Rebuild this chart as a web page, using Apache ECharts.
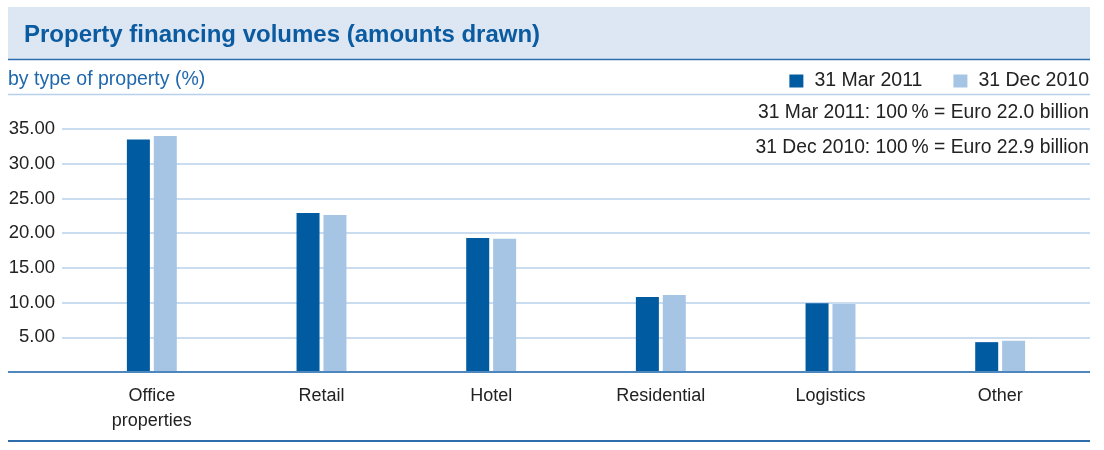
<!doctype html>
<html>
<head>
    <meta charset="utf-8">
    <title>Property financing volumes</title>
    <style>
        html, body { margin: 0; padding: 0; background: #fff; }
        #chartEle { width: 1104px; height: 450px; }
    </style>
</head>
<body>
<div id="chartEle"></div>
<script src="https://cdn.jsdelivr.net/npm/echarts@6/dist/echarts.min.js"></script>
<script>
    // data (% of total)
    var categories = ['Office\nproperties', 'Retail', 'Hotel', 'Residential', 'Logistics', 'Other'];
    var mar2011 = [33.5, 22.9, 19.3, 10.8, 9.9, 4.3];
    var dec2010 = [34.0, 22.6, 19.2, 11.1, 9.8, 4.5];
    var seriesNames = ['31 Mar 2011', '31 Dec 2010'];
    var yTicks = [0, 5, 10, 15, 20, 25, 30, 35];
    var notes = ['31 Mar 2011: 100\u2009% = Euro 22.0 billion', '31 Dec 2010: 100\u2009% = Euro 22.9 billion'];

    var font = '"Liberation Sans", Arial, sans-serif';
    var dark = '#005ba1';
    var light = '#a6c5e4';
    var gridColor = '#b8d0ea';

    var myChart = echarts.init(document.getElementById('chartEle'));
    var option = {
        backgroundColor: '#fff',
        textStyle: {fontFamily: font},
        animation: false,
        graphic: [
            // header band
            {type: 'rect', shape: {x: 8, y: 7, width: 1082, height: 52}, style: {fill: '#dde7f3'}, z: -1},
            {type: 'line', shape: {x1: 8, y1: 59.5, x2: 1090, y2: 59.5}, style: {stroke: '#2f6eac', lineWidth: 1.5}},
            {type: 'line', shape: {x1: 8, y1: 94.5, x2: 1090, y2: 94.5}, style: {stroke: gridColor, lineWidth: 1.5}},
            // baseline + bottom rule
            {type: 'line', shape: {x1: 8, y1: 372, x2: 1090, y2: 372}, style: {stroke: '#4d87be', lineWidth: 2}, z: 10},
            {type: 'line', shape: {x1: 8, y1: 441, x2: 1090, y2: 441}, style: {stroke: '#2f6eac', lineWidth: 2}}
        ],
        title: [{
            text: 'Property financing volumes (amounts drawn)',
            left: 19, top: 18,
            textStyle: {color: '#0b5ba1', fontSize: 24, fontWeight: 'bold', fontFamily: font}
        }, {
            text: 'by type of property (%)',
            left: 3, top: 65,
            textStyle: {color: '#1f68ad', fontSize: 19.5, fontWeight: 'normal', fontFamily: font}
        }, {
            text: notes[0],
            right: 10, top: 98,
            textStyle: {color: '#222', fontSize: 19.3, fontWeight: 'normal', fontFamily: font}
        }, {
            text: notes[1],
            right: 10, top: 133,
            textStyle: {color: '#222', fontSize: 19.3, fontWeight: 'normal', fontFamily: font}
        }],
        legend: {
            data: seriesNames,
            right: 10, top: 66,
            icon: 'rect',
            itemWidth: 14, itemHeight: 13,
            itemGap: 31,
            selectedMode: false,
            textStyle: {color: '#222', fontSize: 19.5, fontFamily: font, padding: [0, 0, 0, 6]}
        },
        grid: [
            {left: 67, right: 19, top: 129, bottom: 78},   // bars
            {left: 62, right: 14, top: 129, bottom: 78}    // gridlines + y labels
        ],
        xAxis: [{
            gridIndex: 0,
            type: 'category',
            data: categories,
            axisLine: {show: false},
            axisTick: {show: false},
            axisLabel: {color: '#222', fontSize: 18, lineHeight: 25, margin: 12, fontFamily: font}
        }, {
            gridIndex: 1,
            type: 'category',
            data: categories,
            show: false
        }],
        yAxis: [{
            gridIndex: 0,
            type: 'value',
            min: 0, max: 35, interval: 5,
            show: false
        }, {
            gridIndex: 1,
            type: 'value',
            min: yTicks[0], max: yTicks[yTicks.length - 1], interval: 5,
            axisLine: {show: false},
            axisTick: {show: false},
            axisLabel: {
                color: '#222', fontSize: 18.5, margin: 7, fontFamily: font,
                formatter: function (v) { return v === 0 ? '' : v.toFixed(2); }
            },
            splitLine: {lineStyle: {color: gridColor, width: 1.5}}
        }],
        series: [{
            name: seriesNames[0],
            type: 'bar',
            xAxisIndex: 0, yAxisIndex: 0,
            data: mar2011,
            barWidth: 23,
            barGap: '17%',
            itemStyle: {color: dark}
        }, {
            name: seriesNames[1],
            type: 'bar',
            xAxisIndex: 0, yAxisIndex: 0,
            data: dec2010,
            barWidth: 23,
            itemStyle: {color: light}
        }]
    };
    myChart.setOption(option);
</script>
</body>
</html>
